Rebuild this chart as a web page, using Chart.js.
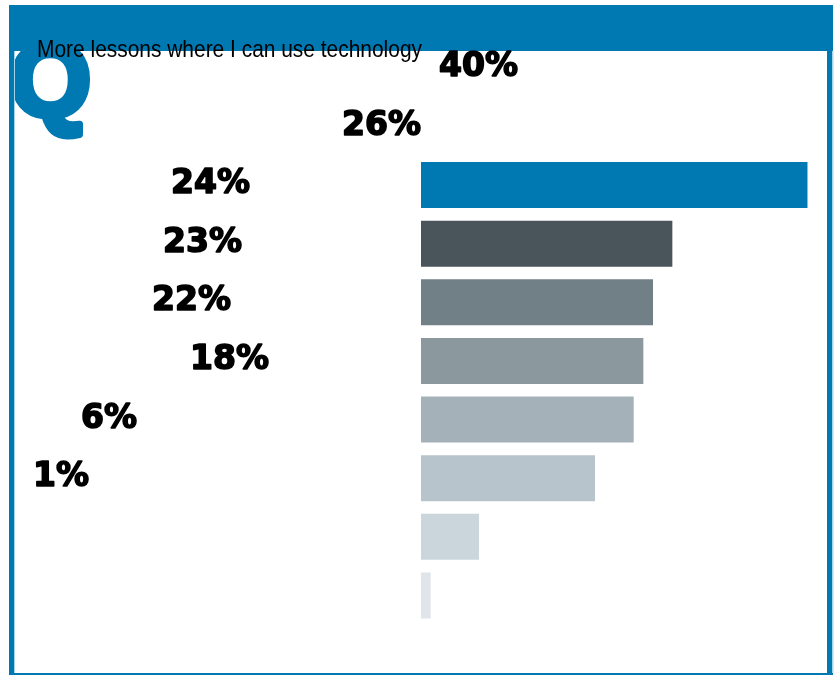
<!DOCTYPE html>
<html lang="en">
<head>
    <meta charset="UTF-8">
    <title>More lessons where I can use technology</title>
    <script src="https://cdn.jsdelivr.net/npm/chart.js"></script>
    <style>
        html, body {
            margin: 0;
            padding: 0;
            background: #fff;
        }
        canvas {
            display: block;
        }
    </style>
</head>
<body>
    <canvas id="surveyChart" width="838" height="675"></canvas>
    <script>
        // Survey answers, top to bottom
        const question = 'More lessons where I can use technology';
        const values = [40, 26, 24, 23, 22, 18, 6, 1];
        const valueLabels = values.map(v => v + '%');
        const barColors = ['#0079b3', '#4a555b', '#718087', '#8b989e', '#a5b1b8', '#b7c4cb', '#cbd6dc', '#dfe5eb'];

        // Layout of the percentage captions (left edge, px) and their rise above each bar
        const labelLeft = [439, 342, 171, 163, 152, 190, 81, 33];
        const labelRise = 121.3;

        const brandBlue = '#0079b3';
        const edgeBlue = '#a8d4ea';

        // Frame, header band, the big "Q" and the question text
        const framePlugin = {
            id: 'frame',
            beforeDraw(chart) {
                const ctx = chart.ctx;
                const W = chart.width, H = chart.height;
                ctx.save();
                ctx.fillStyle = '#fff';
                ctx.fillRect(0, 0, W, H);

                // Q sits under the header band
                ctx.fillStyle = brandBlue;
                ctx.strokeStyle = brandBlue;
                ctx.lineWidth = 7;
                ctx.lineJoin = 'round';
                ctx.font = 'bold 104px "Liberation Sans", Arial, sans-serif';
                ctx.textBaseline = 'alphabetic';
                ctx.fillText('Q', 10, 116);
                ctx.strokeText('Q', 10, 116);

                // header band
                ctx.fillStyle = brandBlue;
                ctx.fillRect(9, 5, 824, 46);

                // side and bottom borders
                ctx.fillRect(9, 51, 5, H - 51);
                ctx.fillRect(827, 51, 5, H - 51);
                ctx.fillRect(9, H - 2, 824, 2);
                ctx.fillStyle = edgeBlue;
                ctx.fillRect(14, 51, 1, H - 53);
                ctx.fillRect(832, 51, 1.5, H - 53);

                // question text, slightly condensed
                ctx.fillStyle = '#000';
                ctx.font = '24px "Liberation Sans", Arial, sans-serif';
                const w = ctx.measureText(question).width;
                ctx.translate(37, 57);
                ctx.scale(385 / w, 1);
                ctx.fillText(question, 0, 0);
                ctx.restore();
            }
        };

        // Heavy percentage captions
        const captionPlugin = {
            id: 'captions',
            afterDatasetsDraw(chart) {
                const ctx = chart.ctx;
                const bars = chart.getDatasetMeta(0).data;
                ctx.save();
                ctx.fillStyle = '#000';
                ctx.strokeStyle = '#000';
                ctx.lineWidth = 1.6;
                ctx.lineJoin = 'round';
                ctx.font = 'bold 33px "DejaVu Sans", sans-serif';
                ctx.textAlign = 'left';
                ctx.textBaseline = 'alphabetic';
                bars.forEach((bar, i) => {
                    const y = bar.y - labelRise + 12.2;
                    ctx.fillText(valueLabels[i], labelLeft[i], y);
                    ctx.strokeText(valueLabels[i], labelLeft[i], y);
                });
                ctx.restore();
            }
        };

        new Chart(document.getElementById('surveyChart'), {
            type: 'bar',
            data: {
                labels: valueLabels,
                datasets: [{
                    data: values,
                    backgroundColor: barColors,
                    borderWidth: 0,
                    categoryPercentage: 1,
                    barPercentage: 0.784
                }]
            },
            options: {
                indexAxis: 'y',
                responsive: false,
                devicePixelRatio: 1,
                animation: false,
                layout: {
                    padding: { left: 421, right: 30.3, top: 155.7, bottom: 50.2 }
                },
                plugins: {
                    legend: { display: false },
                    tooltip: { enabled: false }
                },
                scales: {
                    x: { display: false, min: 0, max: 40 },
                    y: { display: false }
                }
            },
            plugins: [framePlugin, captionPlugin]
        });
    </script>
</body>
</html>
